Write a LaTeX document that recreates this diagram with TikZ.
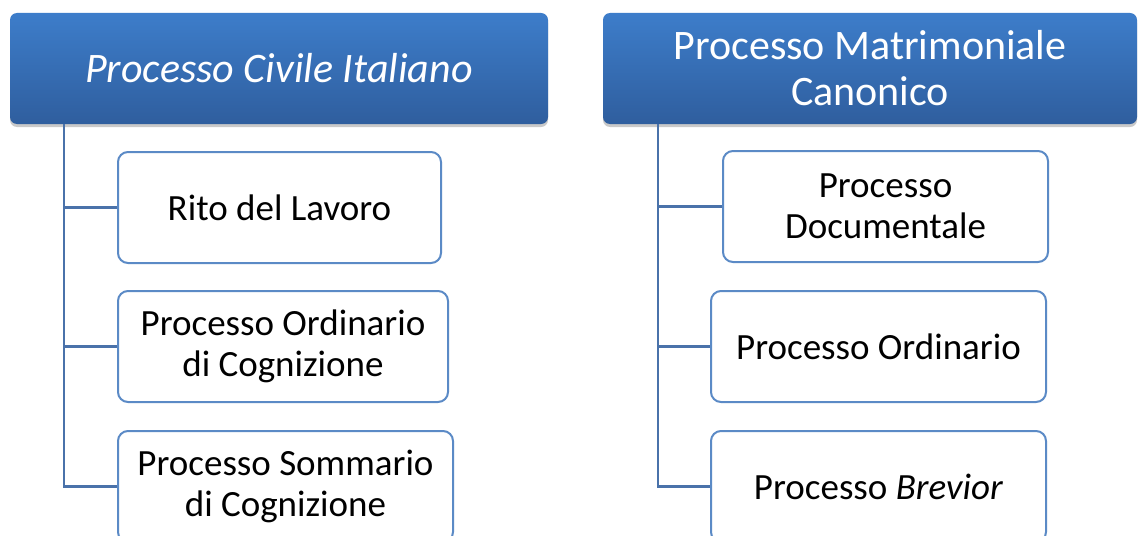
\documentclass[tikz,border=0pt]{standalone}
\usepackage{fontspec}
\setmainfont{Carlito}
\usetikzlibrary{shadows}
\definecolor{hdrtop}{HTML}{3D7DCA}
\definecolor{hdrbot}{HTML}{2F5E9E}
\definecolor{boxline}{HTML}{5B8AC6}
\definecolor{connline}{HTML}{4A72AA}
\tikzset{
  hdr/.style={rectangle, rounded corners=7pt, inner sep=0pt, top color=hdrtop, bottom color=hdrbot,
    draw=none, text=white, align=center, font=\fontsize{42}{46}\selectfont,
    drop shadow={shadow xshift=0pt, shadow yshift=-3pt, opacity=0.35, fill=black!60}},
  child/.style={rectangle, rounded corners=10pt, inner sep=0pt, draw=boxline, line width=2pt, fill=white,
    text=black, align=center, font=\fontsize{37}{40.5}\selectfont, minimum height=111pt},
  conn/.style={draw=connline, line width=2.2pt}
}
\begin{document}
\begin{tikzpicture}[x=1pt,y=-1pt]
\useasboundingbox (0,0) rectangle (1139,535);
\fill[white] (0,0) rectangle (1139,535);
% left tree
\node[hdr, minimum width=538pt, minimum height=111pt] (hL) at (279,68.5) {\itshape Processo Civile Italiano};
\coordinate (tL) at (64,124);
\node[child, minimum width=323pt] (c1) at (279.5,207.5) {Rito del Lavoro};
\node[child, minimum width=330pt] (c2) at (283,346.5) {Processo Ordinario\\di Cognizione};
\node[child, minimum width=335pt] (c3) at (285.5,486.5) {Processo Sommario\\di Cognizione};
\draw[conn] (tL) |- (c3.west);
\draw[conn] (tL |- c1.west) -- (c1.west);
\draw[conn] (tL |- c2.west) -- (c2.west);
% right tree
\node[hdr, minimum width=534pt, minimum height=111pt] (hR) at (870,68.5) {Processo Matrimoniale\\Canonico};
\coordinate (tR) at (658,124);
\node[child, minimum width=325pt] (c4) at (885.5,206.5) {Processo\\Documentale};
\node[child, minimum width=335pt] (c5) at (878.5,346.5) {Processo Ordinario};
\node[child, minimum width=335pt] (c6) at (878.5,486.5) {Processo \textit{Brevior}};
\draw[conn] (tR) |- (c6.west);
\draw[conn] (tR |- c4.west) -- (c4.west);
\draw[conn] (tR |- c5.west) -- (c5.west);
\end{tikzpicture}
\end{document}
